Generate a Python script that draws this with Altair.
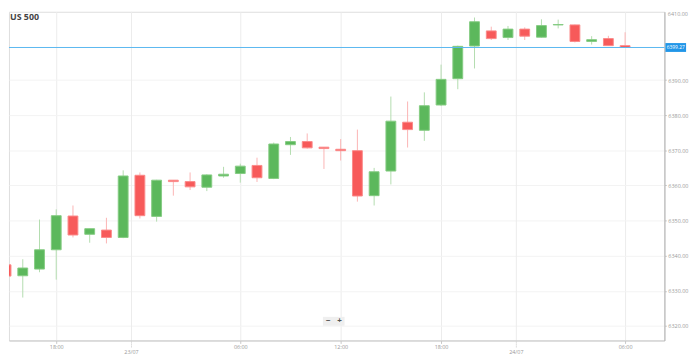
import altair as alt
import pandas as pd

# ---- data (hourly candles) ----
idx = list(range(38))
opens = [6337.4, 6334.3, 6336.2, 6341.7, 6351.3, 6346.1, 6347.3, 6345.2, 6362.9, 6351.2,
         6361.5, 6361.1, 6359.5, 6362.7, 6363.4, 6365.7, 6362.0, 6371.6, 6372.5, 6370.9,
         6370.3, 6369.9, 6357.1, 6364.1, 6378.0, 6375.7, 6382.9, 6390.4, 6399.7, 6404.0,
         6402.1, 6404.5, 6402.2, 6405.7, 6405.7, 6401.0, 6401.8, 6399.8]
highs = [6339.0, 6339.0, 6350.3, 6353.2, 6354.3, 6347.7, 6350.8, 6364.3, 6363.7, 6361.6,
         6361.5, 6363.7, 6363.2, 6365.3, 6366.2, 6367.9, 6372.2, 6373.8, 6374.8, 6370.9,
         6373.2, 6375.9, 6365.0, 6385.3, 6383.9, 6386.5, 6394.4, 6399.8, 6407.8, 6405.2,
         6405.4, 6405.0, 6407.3, 6407.2, 6405.8, 6402.5, 6402.6, 6403.6]
lows = [6331.1, 6328.1, 6335.3, 6333.2, 6345.2, 6343.7, 6343.5, 6345.0, 6350.6, 6349.7,
        6357.1, 6358.7, 6358.4, 6362.2, 6360.8, 6361.0, 6361.8, 6368.7, 6370.5, 6364.7,
        6367.1, 6355.4, 6354.3, 6360.3, 6370.8, 6372.7, 6382.6, 6387.4, 6393.3, 6401.4,
        6401.4, 6401.4, 6402.1, 6404.7, 6400.7, 6400.1, 6399.8, 6399.2]
closes = [6334.2, 6336.5, 6341.7, 6351.4, 6345.9, 6347.7, 6345.2, 6362.7, 6351.4, 6361.5,
          6361.1, 6359.6, 6363.0, 6363.2, 6365.5, 6362.2, 6371.8, 6372.5, 6370.7, 6370.5,
          6369.9, 6357.0, 6363.9, 6378.3, 6375.9, 6382.7, 6390.2, 6399.6, 6406.6, 6401.8,
          6404.5, 6402.5, 6405.5, 6405.8, 6401.0, 6401.5, 6399.8, 6399.27]

last_price = 6399.27
last_label = "6399.27"

price_ticks = [6320, 6330, 6340, 6350, 6360, 6370, 6380, 6390]
top_label = "6410.00"

time_ticks = [3, 14, 20, 26, 37]
time_labels = ["18:00", "06:00", "12:00", "18:00", "06:00"]
date_ticks = [7.5, 30.5]
date_labels = ["23/07", "24/07"]

title_text = "US 500"

# ---- styling ----
GREEN = "#5cb85c"
GREEN_EDGE = "#86cc83"
GREEN_WICK = "#b3dcae"
RED = "#f75a5a"
RED_EDGE = "#fb8a8a"
RED_WICK = "#fbb4b4"
BLUE = "#5ab8f0"
BLUE_BOX = "#2196e8"
AXIS_TXT = "#9a9a9a"

W, H = 666, 334
X_DOMAIN = [0.176, 39.35]
Y_DOMAIN = [6315.88, 6409.44]

df = pd.DataFrame({"i": idx, "open": opens, "high": highs, "low": lows, "close": closes})

expr = "''"
for t, l in zip(reversed(time_ticks), reversed(time_labels)):
    expr = f"datum.value == {t} ? '{l}' : ({expr})"

xscale = alt.Scale(domain=X_DOMAIN, nice=False, zero=False, padding=0)
yscale = alt.Scale(domain=Y_DOMAIN, nice=False, zero=False, padding=0)

x_axis = alt.Axis(values=time_ticks, labelExpr=expr, title=None, grid=True,
                  gridColor="#ececec", domainColor="#c8c8c8", tickColor="#c8c8c8",
                  tickSize=3, labelFontSize=5.5, labelColor=AXIS_TXT, labelPadding=1,
                  labelFont="Open Sans")
y_axis = alt.Axis(values=price_ticks, format=".2f", orient="right", title=None, grid=True,
                  gridColor="#f3f3f3", domainColor="#b0b0b0", tickColor="#c8c8c8",
                  tickSize=2, labelFontSize=5.5, labelColor=AXIS_TXT, labelPadding=1.5,
                  labelFont="Open Sans")

up = "datum.close >= datum.open"

wicks = alt.Chart(df).mark_rule(strokeWidth=1, clip=True).encode(
    x=alt.X("i:Q", scale=xscale, axis=x_axis),
    y=alt.Y("low:Q", scale=yscale, axis=y_axis),
    y2="high:Q",
    color=alt.condition(up, alt.value(GREEN_WICK), alt.value(RED_WICK)),
)

bodies = alt.Chart(df).mark_bar(size=10, strokeWidth=1, clip=True).encode(
    x=alt.X("i:Q", scale=xscale),
    y=alt.Y("open:Q", scale=yscale),
    y2="close:Q",
    fill=alt.condition(up, alt.value(GREEN), alt.value(RED)),
    stroke=alt.condition(up, alt.value(GREEN_EDGE), alt.value(RED_EDGE)),
)

dates_df = pd.DataFrame({"d": date_ticks, "label": date_labels})
date_grid = alt.Chart(dates_df).mark_rule(color="#ececec", strokeWidth=1).encode(
    x=alt.X("d:Q", scale=xscale), y=alt.value(0), y2=alt.value(H))
date_tick = alt.Chart(dates_df).mark_rule(color="#c8c8c8", strokeWidth=1, strokeDash=[1, 1]).encode(
    x=alt.X("d:Q", scale=xscale), y=alt.value(H), y2=alt.value(H + 7))
date_text = alt.Chart(dates_df).mark_text(fontSize=5.5, color=AXIS_TXT, baseline="middle",
                                          font="Open Sans").encode(
    x=alt.X("d:Q", scale=xscale), y=alt.value(H + 12), text="label:N")

last_df = pd.DataFrame({"p": [last_price], "label": [last_label]})
last_line = alt.Chart(last_df).mark_rule(color=BLUE, strokeWidth=1).encode(
    y=alt.Y("p:Q", scale=yscale), x=alt.value(0), x2=alt.value(W))
last_box = alt.Chart(last_df).mark_rule(color=BLUE_BOX, strokeWidth=9, strokeCap="butt").encode(
    y=alt.Y("p:Q", scale=yscale), x=alt.value(W + 1), x2=alt.value(W + 22))
last_text = alt.Chart(last_df).mark_text(color="white", fontSize=5, align="center",
                                         baseline="middle", font="Open Sans").encode(
    y=alt.Y("p:Q", scale=yscale), x=alt.value(W + 11.5), text="label:N")

top_df = pd.DataFrame({"label": [top_label]})
top_text = alt.Chart(top_df).mark_text(fontSize=5.5, color=AXIS_TXT, align="left",
                                       baseline="top", font="Open Sans").encode(
    x=alt.value(W + 3.5), y=alt.value(0), text="label:N")

title_df = pd.DataFrame({"label": [title_text]})
title = alt.Chart(title_df).mark_text(fontSize=9, fontWeight="bold", color="#444444",
                                      align="left", baseline="middle", font="Open Sans").encode(
    x=alt.value(1), y=alt.value(5), text="label:N")

btn_bg = alt.Chart(pd.DataFrame({"a": [0]})).mark_rect(color="#efefef").encode(
    x=alt.value(319), x2=alt.value(341), y=alt.value(310), y2=alt.value(319))
btn_minus = alt.Chart(pd.DataFrame({"label": ["\u2212"]})).mark_text(
    fontSize=8, fontWeight="bold", color="#555555", baseline="middle").encode(
    x=alt.value(324.5), y=alt.value(314.5), text="label:N")
btn_plus = alt.Chart(pd.DataFrame({"label": ["+"]})).mark_text(
    fontSize=8, fontWeight="bold", color="#555555", baseline="middle").encode(
    x=alt.value(336), y=alt.value(314.5), text="label:N")

chart = alt.layer(
    date_grid, wicks, bodies, last_line, last_box, last_text, top_text,
    date_tick, date_text, title, btn_bg, btn_minus, btn_plus,
).properties(width=W, height=H, padding=0).configure_view(stroke=None).configure(
    background="white")

chart.save("out.html", embed_options={"renderer": "svg", "actions": False})
